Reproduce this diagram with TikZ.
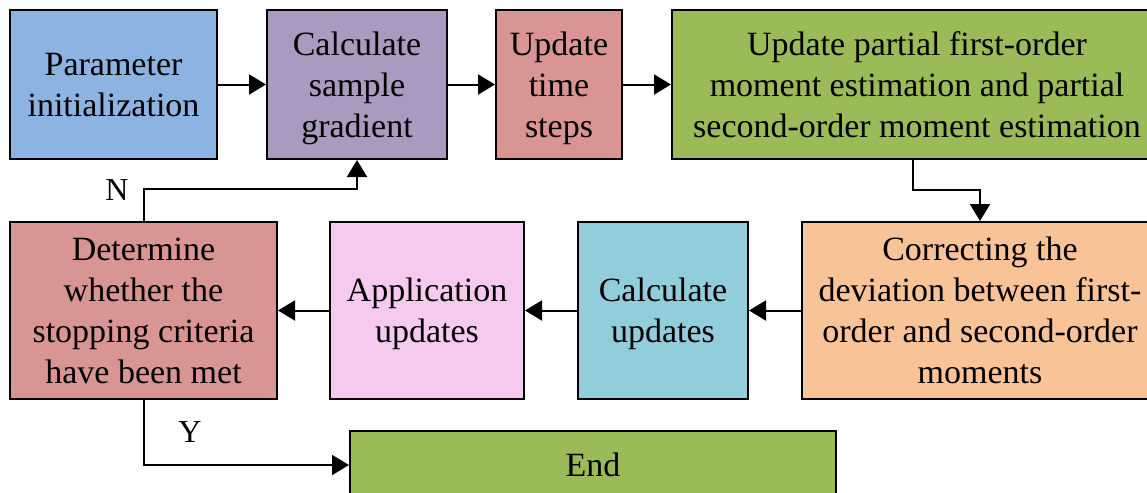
\documentclass[tikz,border=0pt]{standalone}
\usepackage{fontspec}
\setmainfont{Liberation Serif}
\usetikzlibrary{arrows.meta}

\definecolor{cblue}{HTML}{8DB3E2}
\definecolor{cpurple}{HTML}{AA9AC0}
\definecolor{cred}{HTML}{D99594}
\definecolor{cgreen}{HTML}{9BBB59}
\definecolor{corange}{HTML}{F9C398}
\definecolor{ccyan}{HTML}{92CDDC}
\definecolor{cpink}{HTML}{F6CAEE}

\tikzset{
  stage/.style={draw=black, line width=1pt, align=center, inner sep=0pt,
    font=\fontsize{17pt}{20.5pt}\selectfont},
  multi/.style={stage, text depth=0pt},
  toprow/.style={multi, minimum height=74.5pt},
  lowrow/.style={multi, minimum height=88.5pt},
  flow/.style={line width=1pt, -{Triangle[length=8.5pt,width=10pt]}},
  tag/.style={font=\fontsize{16pt}{19pt}\selectfont, inner sep=0pt}
}

\begin{document}
\begin{tikzpicture}[x=0.5pt, y=-0.5pt]
  \useasboundingbox (0,0) rectangle (1147,493);
  \clip (0,0) rectangle (1147,493);

  % upper row
  \node[toprow, fill=cblue,   minimum width=103.5pt] (init)   at (113.5,84.5) {Parameter\\initialization};
  \node[toprow, fill=cpurple, minimum width=90pt]    (grad)   at (357,84.5)   {Calculate\\sample\\gradient};
  \node[toprow, fill=cred,    minimum width=63pt]    (time)   at (559,84.5)   {Update\\time\\steps};
  \node[toprow, fill=cgreen,  minimum width=245pt]   (moment) at (917,84.5)   {Update partial first-order\\moment estimation and partial\\second-order moment estimation};

  % lower row
  \node[lowrow, fill=corange, minimum width=178pt]   (corr)   at (980,310.5)  {Correcting the\\deviation between first-\\order and second-order\\moments};
  \node[lowrow, fill=ccyan,   minimum width=85pt]    (calc)   at (663,310.5)  {Calculate\\updates};
  \node[lowrow, fill=cpink,   minimum width=97pt]    (app)    at (427,310.5)  {Application\\updates};
  \node[lowrow, fill=cred,    minimum width=133.5pt] (det)    at (143.5,310.5){Determine\\whether the\\stopping criteria\\have been met};

  % final stage
  \node[stage, fill=cgreen, minimum width=243pt, minimum height=34pt] (end) at (593,465) {End};

  % connectors
  \draw[flow] (init.east) -- (grad.west);
  \draw[flow] (grad.east) -- (time.west);
  \draw[flow] (time.east) -- (moment.west);
  \draw[flow] ([xshift=-2pt]moment.south) -- ++(0,30) -| (corr.north);
  \draw[flow] (corr.west) -- (calc.east);
  \draw[flow] (calc.west) -- (app.east);
  \draw[flow] (app.west) -- (det.east);
  \draw[flow] (det.north) -- ++(0,-32) -| (grad.south);
  \draw[flow] (det.south) |- (end.west);

  % branch labels
  \node[tag] (lblN) at (117,190) {N};
  \node[tag] (lblY) at (190,432) {Y};
\end{tikzpicture}
\end{document}
